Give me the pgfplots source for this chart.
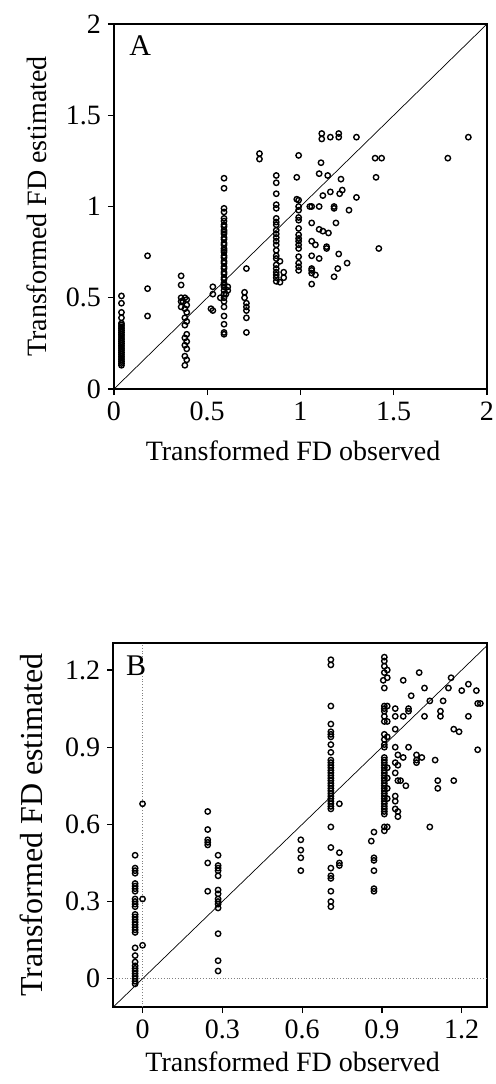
\documentclass[border=0pt]{standalone}
\usepackage{pgfplots}
\pgfplotsset{compat=1.18}
\usepackage{fontspec}
\setmainfont{Liberation Serif}
\begin{document}
\begin{tikzpicture}
\path[use as bounding box] (0,0) rectangle (247.5pt,-542pt);
\pgfplotsset{
  panel/.style={
    scale only axis,
    anchor=south west,
    axis line style={line width=0.85pt},
    tick align=outside,
    xtick pos=left, ytick pos=left,
    major tick length=3pt,
    tick style={line width=0.6pt, black},
    tick label style={font=\fontsize{14}{15}\selectfont},
    /pgf/number format/assume math mode=true,
    label style={font=\fontsize{14}{16}\selectfont},
    xlabel={Transformed FD observed},
    ylabel={Transformed FD estimated},
  },
  pts/.style={only marks, mark=o, mark size=1.35pt, mark options={line width=0.7pt, black}},
}
% ---------------- Panel A ----------------
\begin{axis}[panel,
  at={(57pt,-194.5pt)}, width=186.5pt, height=182.5pt,
  xmin=0, xmax=2, ymin=0, ymax=2,
  xtick={0,0.5,1,1.5,2}, ytick={0,0.5,1,1.5,2},
  xlabel style={at={(axis description cs:0.48,-0.17)}, anchor=center},
  ylabel style={at={(axis description cs:-0.206,0.5)}, anchor=center},
]
\addplot[no marks, line width=0.35pt] coordinates {(0,0) (2,2)};
\addplot[pts] coordinates {
(0.04,0.51)(0.04,0.47)(0.04,0.42)(0.04,0.39)(0.04,0.36)(0.04,0.35)(0.04,0.34)(0.04,0.33)(0.04,0.32)(0.04,0.31)
(0.04,0.30)(0.04,0.29)(0.04,0.28)(0.04,0.27)(0.04,0.26)(0.04,0.25)(0.04,0.24)(0.04,0.23)(0.04,0.22)(0.04,0.21)
(0.04,0.20)(0.04,0.19)(0.04,0.18)(0.04,0.17)(0.04,0.16)(0.04,0.15)(0.04,0.14)(0.04,0.13)
(0.18,0.73)(0.18,0.55)(0.18,0.40)
(0.36,0.62)(0.36,0.57)(0.36,0.50)(0.36,0.48)(0.36,0.45)
(0.38,0.50)(0.39,0.49)(0.37,0.48)(0.39,0.46)(0.38,0.44)(0.39,0.42)(0.38,0.39)(0.39,0.37)(0.38,0.35)
(0.39,0.30)(0.38,0.28)(0.39,0.26)(0.38,0.24)(0.39,0.22)(0.38,0.18)(0.39,0.16)(0.38,0.13)
(0.53,0.56)(0.53,0.52)(0.52,0.44)(0.53,0.43)
(0.59,1.155)(0.59,1.10)(0.59,0.99)(0.59,0.97)(0.59,0.935)(0.59,0.92)(0.59,0.90)(0.59,0.89)(0.59,0.87)(0.59,0.86)
(0.59,0.85)(0.59,0.83)(0.59,0.82)(0.59,0.80)(0.59,0.79)(0.59,0.77)(0.59,0.76)(0.59,0.75)(0.59,0.73)(0.59,0.72)
(0.59,0.70)(0.59,0.69)(0.59,0.67)(0.59,0.66)(0.59,0.64)(0.59,0.63)(0.59,0.61)(0.59,0.60)(0.59,0.58)(0.59,0.57)
(0.59,0.56)(0.59,0.54)(0.59,0.52)(0.59,0.50)(0.59,0.48)(0.59,0.45)(0.59,0.40)(0.59,0.355)(0.59,0.31)(0.59,0.30)
(0.61,0.56)(0.61,0.54)(0.60,0.52)(0.57,0.50)
(0.71,0.66)(0.70,0.53)(0.70,0.50)(0.71,0.47)(0.71,0.45)(0.71,0.43)(0.71,0.39)(0.71,0.31)
(0.78,1.29)(0.78,1.26)
(0.87,1.17)(0.87,1.13)(0.87,1.07)(0.87,1.01)(0.87,0.99)(0.87,0.935)(0.87,0.915)(0.87,0.90)(0.87,0.87)(0.87,0.85)
(0.87,0.83)(0.87,0.81)(0.87,0.79)(0.87,0.76)(0.87,0.73)(0.87,0.715)(0.87,0.68)(0.87,0.66)(0.87,0.64)(0.87,0.625)
(0.87,0.61)(0.87,0.59)(0.89,0.70)(0.91,0.64)(0.91,0.61)(0.89,0.585)
(0.99,1.28)(0.98,1.16)(0.98,1.04)(0.99,1.035)(0.99,1.0)(0.99,0.98)(0.99,0.94)(0.99,0.925)(0.99,0.88)(0.99,0.845)
(0.99,0.825)(0.99,0.81)(0.99,0.79)(0.99,0.77)(0.99,0.725)(0.99,0.69)(0.99,0.67)(0.99,0.65)
(1.06,1.0)(1.06,0.91)(1.06,0.81)(1.06,0.73)(1.06,0.66)(1.06,0.65)(1.06,0.635)(1.06,0.575)
(1.10,1.0)(1.10,0.875)(1.12,0.865)(1.15,0.855)(1.08,0.79)(1.10,0.715)(1.14,0.78)(1.14,0.77)(1.08,0.625)
(1.18,1.0)(1.19,0.91)(1.205,0.74)(1.20,0.66)(1.18,0.615)(1.25,0.69)(1.26,0.98)(1.42,0.77)
(1.114,1.40)(1.114,1.37)(1.16,1.38)(1.205,1.40)(1.205,1.38)(1.30,1.38)(1.11,1.24)
(1.40,1.265)(1.435,1.265)(1.405,1.16)(1.79,1.265)(1.90,1.38)
(1.10,1.18)(1.146,1.17)(1.217,1.15)(1.224,1.09)(1.21,1.07)(1.16,1.08)(1.12,1.06)(1.30,1.05)
(1.05,1.0)(1.18,0.99)
};
\node[font=\fontsize{15}{16}\selectfont] at (rel axis cs:0.07,0.94) {A};
\end{axis}
% ---------------- Panel B ----------------
\begin{axis}[panel,
  at={(56.65pt,-503.5pt)}, width=186.85pt, height=182pt,
  xmin=-0.11, xmax=1.295, ymin=-0.11, ymax=1.305,
  xtick={0,0.3,0.6,0.9,1.2}, ytick={0,0.3,0.6,0.9,1.2},
  xlabel style={at={(axis description cs:0.48,-0.151)}, anchor=center},
  ylabel style={at={(axis description cs:-0.218,0.5)}, anchor=center, font=\fontsize{16}{18}\selectfont},
]
\addplot[no marks, densely dotted, gray, line width=0.4pt] coordinates {(0,-0.11) (0,1.305)};
\addplot[no marks, densely dotted, gray, line width=0.4pt] coordinates {(-0.11,0) (1.295,0)};
\addplot[no marks, line width=0.35pt] coordinates {(-0.11,-0.11) (1.305,1.305)};
\addplot[pts] coordinates {
(-0.028,0.48)(-0.028,0.43)(-0.028,0.42)(-0.028,0.41)(-0.028,0.37)(-0.028,0.36)(-0.028,0.35)(-0.028,0.34)
(-0.028,0.31)(-0.028,0.30)(-0.028,0.29)(-0.028,0.28)(-0.028,0.25)(-0.028,0.24)(-0.028,0.23)(-0.028,0.22)
(-0.028,0.21)(-0.028,0.20)(-0.028,0.19)(-0.028,0.18)(-0.028,0.12)(-0.028,0.09)(-0.028,0.065)(-0.028,0.05)
(-0.028,0.04)(-0.028,0.03)(-0.028,0.02)(-0.028,0.01)(-0.028,0.0)(-0.028,-0.01)(-0.028,-0.02)
(0.0,0.68)(0.0,0.31)(0.0,0.13)
(0.245,0.65)(0.245,0.58)(0.245,0.54)(0.245,0.53)(0.245,0.52)(0.245,0.45)(0.245,0.34)
(0.284,0.48)(0.284,0.44)(0.284,0.43)(0.284,0.42)(0.284,0.40)(0.284,0.345)(0.284,0.33)(0.284,0.31)
(0.284,0.30)(0.284,0.29)(0.284,0.275)(0.284,0.175)(0.284,0.07)(0.284,0.03)
(0.595,0.54)(0.595,0.50)(0.595,0.47)(0.595,0.42)
(0.708,1.24)(0.708,1.22)(0.708,1.06)(0.708,0.99)(0.708,0.96)(0.708,0.95)(0.708,0.94)(0.708,0.91)(0.708,0.88)
(0.708,0.85)(0.708,0.84)(0.708,0.83)(0.708,0.82)(0.708,0.81)(0.708,0.80)(0.708,0.79)(0.708,0.78)(0.708,0.77)
(0.708,0.76)(0.708,0.75)(0.708,0.74)(0.708,0.73)(0.708,0.72)(0.708,0.71)(0.708,0.70)(0.708,0.69)(0.708,0.68)
(0.708,0.67)(0.708,0.66)(0.708,0.59)(0.708,0.51)(0.708,0.43)(0.708,0.40)(0.708,0.39)(0.708,0.34)(0.708,0.30)(0.708,0.28)
(0.74,0.68)(0.74,0.49)(0.74,0.45)(0.74,0.44)
(0.87,0.57)(0.86,0.535)(0.87,0.47)(0.87,0.46)(0.87,0.42)(0.87,0.35)(0.87,0.34)
(0.909,1.25)(0.909,1.235)(0.909,1.215)(0.909,1.19)(0.905,1.16)(0.909,1.13)(0.909,1.06)(0.909,1.05)(0.909,1.04)
(0.909,1.02)(0.909,1.0)(0.909,0.95)(0.909,0.93)(0.909,0.91)(0.909,0.90)(0.909,0.86)(0.909,0.84)(0.909,0.82)
(0.909,0.85)(0.909,0.83)(0.909,0.81)(0.909,0.80)(0.909,0.79)(0.909,0.78)(0.909,0.77)(0.909,0.76)(0.909,0.75)
(0.909,0.74)(0.909,0.73)(0.909,0.72)(0.909,0.71)(0.909,0.70)(0.909,0.69)(0.909,0.68)(0.909,0.67)(0.909,0.66)
(0.909,0.65)(0.909,0.64)(0.909,0.59)(0.909,0.575)
(0.92,1.20)(0.92,1.17)(0.92,1.06)(0.92,1.0)(0.92,0.94)(0.92,0.82)(0.92,0.78)(0.92,0.74)(0.92,0.70)(0.92,0.59)
(0.95,1.05)(0.95,1.02)(0.95,0.97)(0.95,0.90)(0.96,0.87)(0.96,0.83)(0.95,0.84)(0.95,0.80)(0.96,0.77)(0.97,0.77)
(0.99,0.75)(0.95,0.71)(0.95,0.69)(0.95,0.66)(0.96,0.65)(0.96,0.63)
(0.98,1.16)(0.98,1.02)(1.0,1.05)(1.0,1.04)(0.98,0.86)(1.0,0.90)(1.01,1.10)(1.04,1.19)(1.03,0.87)(1.05,0.86)
(1.03,0.84)(1.06,1.13)(1.06,1.02)(1.08,1.08)(1.10,0.85)(1.12,1.04)(1.12,1.02)(1.13,1.08)(1.15,1.13)(1.16,1.17)
(1.17,0.97)(1.19,0.96)(1.20,1.12)(1.225,1.145)(1.225,1.02)(1.255,1.12)(1.26,1.07)(1.27,1.07)(1.26,0.89)
(1.11,0.77)(1.11,0.74)(1.17,0.77)(1.08,0.59)(1.03,0.85)
};
\node[font=\fontsize{15}{16}\selectfont] at (rel axis cs:0.061,0.938) {B};
\end{axis}
\end{tikzpicture}
\end{document}
